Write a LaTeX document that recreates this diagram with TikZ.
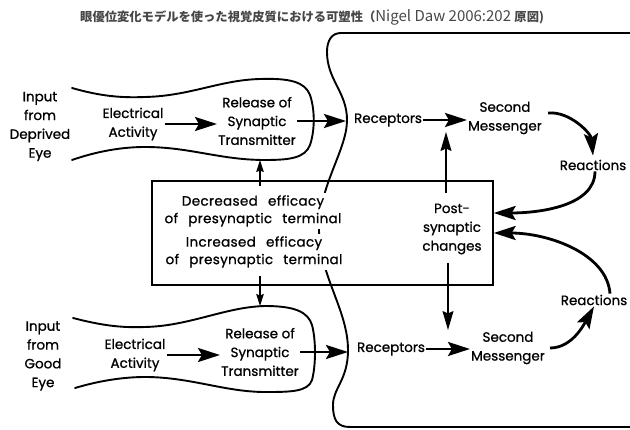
\documentclass[tikz,border=0pt]{standalone}
\usepackage{fontspec}
\setmainfont{Poppins}
\newfontfamily\lblfont{Poppins}[FakeBold=0.9]
\newfontfamily\boxfont{Poppins}[FakeBold=0.9, WordSpace=2.6, LetterSpace=2.5]
\newfontfamily\cjk{Noto Sans CJK JP}
\usetikzlibrary{arrows.meta,calc}

\tikzset{
  lbl/.style={font=\lblfont\fontsize{13.5}{18.8}\selectfont, align=center, inner sep=1pt},
  boxtxt/.style={font=\boxfont\fontsize{13.5}{17.5}\selectfont, align=center, inner sep=2pt, fill=white},
  pen/.style={line width=1.9pt, line cap=round, line join=round},
  frame/.style={line width=1.3pt},
  bigarrow/.style={line width=2.8pt, -{Stealth[length=22pt,width=14pt,inset=4pt]}},
  thinarrow/.style={line width=1.2pt, -{Stealth[length=12pt,width=7.5pt,inset=1.5pt]}},
  medarrow/.style={line width=1.3pt, -{Stealth[length=19pt,width=11pt,inset=2.5pt]}},
}

\begin{document}
\begin{tikzpicture}[x=1pt,y=-1pt]
\useasboundingbox (0,0) rectangle (630,430);

% heading
\node[anchor=west, inner sep=0pt, text=black!72] (title) at (80,17)
  {\cjk\bfseries\fontsize{12.3}{14}\selectfont 眼優位変化モデルを使った視覚皮質における可塑性（{\mdseries\fontsize{15}{15}\selectfont Nigel Daw 2006:202 }原図)};

% presynaptic terminal, deprived eye
\draw[pen] (72,88) .. controls (100,96) and (120,98) .. (145,97)
  .. controls (190,96) and (220,80) .. (260,79)
  .. controls (290,78) and (305,82) .. (310,95)
  .. controls (315,110) and (315,130) .. (310,145)
  .. controls (305,158) and (290,160) .. (265,160)
  .. controls (220,160) and (190,147) .. (145,147)
  .. controls (120,147) and (95,152) .. (72,160);

% presynaptic terminal, good eye
\draw[pen] (73,318) .. controls (100,325) and (120,328) .. (145,327)
  .. controls (190,326) and (225,307) .. (265,306)
  .. controls (295,306) and (308,312) .. (312,325)
  .. controls (316,340) and (316,365) .. (312,380)
  .. controls (308,392) and (290,392) .. (265,392)
  .. controls (225,392) and (190,377) .. (145,377)
  .. controls (120,377) and (95,382) .. (75,388);

% postsynaptic cell membrane
\draw[pen] (630,33) -- (341,33) .. controls (332,33) and (327,40) .. (327,52)
  .. controls (327,80) and (347,92) .. (347,120)
  .. controls (347,150) and (319,185) .. (319,230)
  .. controls (319,275) and (348,310) .. (348,350)
  .. controls (348,380) and (333,388) .. (333,405)
  .. controls (333,420) and (337,427) .. (350,427) -- (630,427);

% central box of changes
\node[draw, frame, minimum width=341pt, minimum height=104pt, inner sep=0pt] (box) at (322.5,233) {};

% labels, deprived eye row
\node[lbl] (inD)   at (40,126.5) {Input\\from\\Deprived\\Eye};
\node[lbl] (elecD) at (133,124) {Electrical\\Activity};
\node[lbl] (relD)  at (257,121) {Release of\\Synaptic\\Transmitter};
\node[lbl] (recD)  at (388,120) {Receptors};
\node[lbl] (smD)   at (505,118) {Second\\Messenger};
\node[lbl] (reaD)  at (593,165) {Reactions};

% labels, good eye row
\node[lbl] (inG)   at (43,356) {Input\\from\\Good\\Eye};
\node[lbl] (elecG) at (135,355) {Electrical\\Activity};
\node[lbl] (relG)  at (260,352) {Release of\\Synaptic\\Transmitter};
\node[lbl] (recG)  at (391,349) {Receptors};
\node[lbl] (smG)   at (508,348) {Second\\Messenger};
\node[lbl] (reaG)  at (594,300) {Reactions};

% box contents
\node[boxtxt] (decr) at (253,211) {Decreased efficacy\\of presynaptic terminal};
\node[boxtxt] (incr) at (254,252) {Increased efficacy\\of presynaptic terminal};
\node[lbl]    (post) at (452,229) {Post-\\synaptic\\changes};

% points on the membranes
\coordinate (memD) at (346,120);
\coordinate (memG) at (348,349);
\coordinate (termDbot) at (260,160);
\coordinate (termGtop) at (260,306);
\coordinate (boxUp) at (260,186);
\coordinate (boxDown) at (260,276);
\coordinate (postUpFrom) at (446,193);
\coordinate (postUpTo) at (446,132);
\coordinate (postDownFrom) at (448,263);
\coordinate (postDownTo) at (448,330);

% signal chain, deprived eye
\draw[bigarrow] (elecD.east) -- (elecD.east -| relD.west);
\draw[bigarrow] (relD.east) -- (relD.east -| memD);
\draw[bigarrow] (recD.east) -- (recD.east -| smD.west);
\draw[bigarrow] ([shift={(5,-5)}]smD.east) .. controls +(22,-2) and +(-2,-22) .. ([yshift=3pt]reaD.north);
\draw[bigarrow] ([xshift=2pt]reaD.south) .. controls +(0,35) and +(45,0) .. ([yshift=20pt]box.east);

% signal chain, good eye
\draw[bigarrow] (elecG.east) -- (elecG.east -| relG.west);
\draw[bigarrow] (relG.east) -- (relG.east -| memG);
\draw[bigarrow] (recG.east) -- (recG.east -| smG.west);
\draw[bigarrow] ([xshift=4pt]smG.east) .. controls +(22,0) and +(-10,18) .. (reaG.south);
\draw[bigarrow] ([xshift=16pt]reaG.north) .. controls +(-3,-40) and +(55,0) .. (box.east);

% effects of the box
\draw[thinarrow] (boxUp) -- (termDbot);
\draw[thinarrow] (boxDown) -- (termGtop);
\draw[medarrow] (postUpFrom) -- (postUpTo);
\draw[medarrow] (postDownFrom) -- (postDownTo);
\end{tikzpicture}
\end{document}
